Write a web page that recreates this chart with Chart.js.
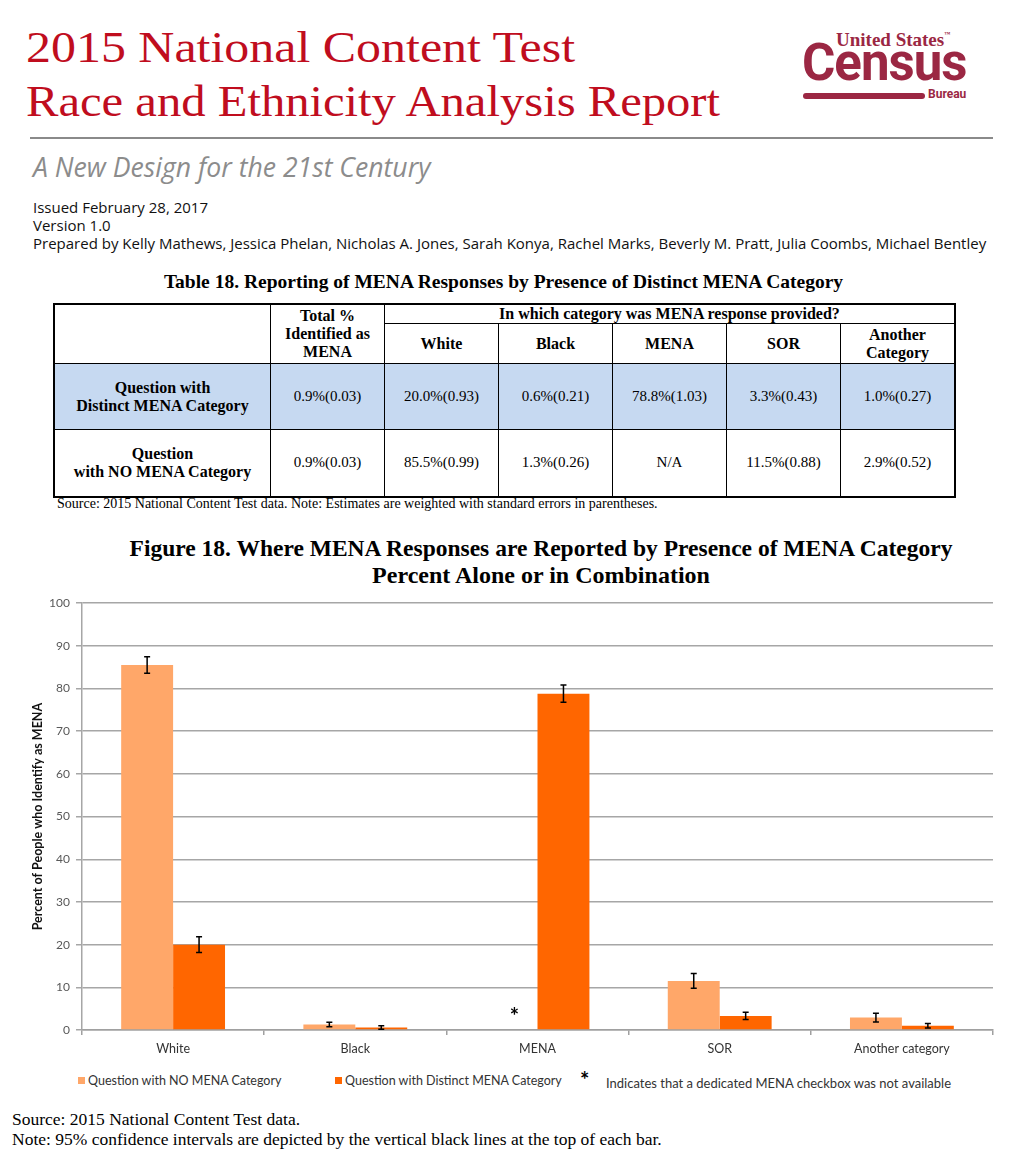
<!DOCTYPE html>
<html>
<head>
<meta charset="utf-8">
<script src="https://cdn.jsdelivr.net/npm/chart.js@4.4.1/dist/chart.umd.min.js"></script>
<style>
  body { margin: 0; background: #fff; width: 1024px; height: 1171px; position: relative; overflow: hidden; }
  .abs { position: absolute; white-space: nowrap; }
  .title { font-family: "Liberation Serif", serif; color: #c00d1e; font-size: 44px; left: 26px; transform-origin: left top; }
  .logo { font-family: "Roboto", "Liberation Sans", sans-serif; color: #9b2743; font-weight: bold; }
  .meta { font-family: "Open Sans", sans-serif; font-size: 15px; color: #111; left: 33px; }
  .serif { font-family: "Liberation Serif", serif; color: #000; }
  table { border-collapse: collapse; font-family: "Liberation Serif", serif; font-size: 15px; }
  td { border: 1px solid #000; text-align: center; padding: 0; }
  th { border: 1px solid #000; text-align: center; padding: 0; font-weight: bold; font-size: 16px; line-height: 18px; }
  .legend { font-family: "Lato", sans-serif; font-size: 12.5px; color: #333; top: 1073px; }
  .sw { display: inline-block; width: 7px; height: 7px; margin-right: 3px; vertical-align: 1px; }
</style>
</head>
<body>
<div class="abs title" style="top:22px;transform:scaleX(1.135);">2015 National Content Test</div>
<div class="abs title" style="top:76px;transform:scaleX(1.105);">Race and Ethnicity Analysis Report</div>

<div class="abs logo" style="left:836px;top:29px;font-size:19px;font-family:'Liberation Serif',serif;">United States<span style="font-size:6px;vertical-align:10px;">™</span></div>
<div class="abs logo" style="left:802px;top:33px;font-size:51px;letter-spacing:-1px;">Census</div>
<div class="abs" style="left:803px;top:93px;width:122px;height:6px;border-radius:3px;background:#9b2743;"></div>
<div class="abs logo" style="left:928px;top:87px;font-size:12px;">Bureau</div>

<div class="abs" style="left:30px;top:137px;width:963px;height:2px;background:#8a8a8a;"></div>
<div class="abs" style="left:33px;top:147px;font-family:'Open Sans',sans-serif;font-style:italic;font-size:28px;color:#8c8c8c;transform:scaleX(0.95);transform-origin:left top;">A New Design for the 21st Century</div>

<div class="abs meta" style="top:197px;">Issued February 28, 2017</div>
<div class="abs meta" style="top:215px;">Version 1.0</div>
<div class="abs meta" style="top:233px;">Prepared by Kelly Mathews, Jessica Phelan, Nicholas A. Jones, Sarah Konya, Rachel Marks, Beverly M. Pratt, Julia Coombs, Michael Bentley</div>

<div class="abs serif" style="left:0;width:1007px;text-align:center;top:271px;font-size:19.5px;font-weight:bold;">Table 18. Reporting of MENA Responses by Presence of Distinct MENA Category</div>

<table id="tbl" class="abs" style="left:53px;top:303px;border:2px solid #000;"></table>
<div class="abs serif" style="left:57px;top:496px;font-size:14px;">Source: 2015 National Content Test data. Note: Estimates are weighted with standard errors in parentheses.</div>

<div class="abs serif" style="left:0;width:1082px;text-align:center;top:535px;font-size:23.5px;font-weight:bold;line-height:27px;">Figure 18. Where MENA Responses are Reported by Presence of MENA Category<br><span style="font-size:24px;">Percent Alone or in Combination</span></div>

<div class="abs" style="left:0;top:590px;width:1024px;height:476px;">
  <canvas id="chart"></canvas>
</div>

<div class="abs legend" style="left:78px;"><span class="sw" style="background:#ffa769;"></span>Question with NO MENA Category</div>
<div class="abs legend" style="left:335px;"><span class="sw" style="background:#ff6600;"></span>Question with Distinct MENA Category</div>
<div class="abs" style="left:580px;top:1066px;font-family:Lato,sans-serif;font-size:22px;font-weight:bold;">*</div>
<div class="abs legend" style="left:606px;top:1075px;font-size:13px;">Indicates that a dedicated MENA checkbox was not available</div>

<div class="abs serif" style="left:12px;top:1109px;font-size:17.5px;">Source: 2015 National Content Test data.</div>
<div class="abs serif" style="left:12px;top:1129px;font-size:17.5px;">Note: 95% confidence intervals are depicted by the vertical black lines at the top of each bar.</div>

<script>
const categories = ['White', 'Black', 'MENA', 'SOR', 'Another category'];
const tableHeaders = ['White', 'Black', 'MENA', 'SOR', 'Another Category'];
const noMenaValues = [85.5, 1.3, null, 11.5, 2.9];
const noMenaSE = [0.99, 0.26, null, 0.88, 0.52];
const distinctValues = [20.0, 0.6, 78.8, 3.3, 1.0];
const distinctSE = [0.93, 0.21, 1.03, 0.43, 0.27];
const totalIdentified = [0.9, 0.9];
const totalSE = [0.03, 0.03];
const yTicks = [0, 10, 20, 30, 40, 50, 60, 70, 80, 90, 100];

// build the table
function cell(v, se) {
    if (v === null) return 'N/A';
    return v.toFixed(1) + '%(' + se.toFixed(2) + ')';
}
const tbl = document.getElementById('tbl');
let html = '<tr style="height:19px;"><th rowspan="2" style="width:215px;"></th>' +
    '<th rowspan="2" style="width:113px;">Total %<br>Identified as<br>MENA</th>' +
    '<th colspan="5">In which category was MENA response provided?</th></tr>';
html += '<tr style="height:40px;">' + tableHeaders.map(h =>
    '<th style="width:113px;">' + h.replace(' ', '<br>') + '</th>').join('') + '</tr>';
html += '<tr style="height:66px;background:#c6d9f1;"><th>Question with<br>Distinct MENA Category</th>' +
    '<td>' + cell(totalIdentified[0], totalSE[0]) + '</td>' +
    distinctValues.map((v, i) => '<td>' + cell(v, distinctSE[i]) + '</td>').join('') + '</tr>';
html += '<tr style="height:67px;"><th>Question<br>with NO MENA Category</th>' +
    '<td>' + cell(totalIdentified[1], totalSE[1]) + '</td>' +
    noMenaValues.map((v, i) => '<td>' + cell(v, noMenaSE[i]) + '</td>').join('') + '</tr>';
tbl.innerHTML = html;

// 95% confidence interval bars and the N/A asterisk
const errorBars = {
    id: 'errorBars',
    afterDatasetsDraw(chart) {
        const ctx = chart.ctx;
        const yScale = chart.scales.y;
        const seLists = [noMenaSE, distinctSE];
        ctx.save();
        ctx.strokeStyle = '#000';
        ctx.lineWidth = 1.5;
        chart.data.datasets.forEach((ds, di) => {
            const meta = chart.getDatasetMeta(di);
            meta.data.forEach((bar, i) => {
                const v = ds.data[i];
                if (v === null) return;
                const half = 1.96 * seLists[di][i];
                const top = yScale.getPixelForValue(v + half);
                const bot = yScale.getPixelForValue(Math.max(0, v - half));
                ctx.beginPath();
                ctx.moveTo(bar.x, top); ctx.lineTo(bar.x, bot);
                ctx.moveTo(bar.x - 3, top); ctx.lineTo(bar.x + 3, top);
                ctx.moveTo(bar.x - 3, bot); ctx.lineTo(bar.x + 3, bot);
                ctx.stroke();
            });
        });
        // asterisk where no MENA checkbox existed
        const other = chart.getDatasetMeta(1).data[2];
        const ax = other.x - other.width + 3;
        ctx.fillStyle = '#000';
        ctx.font = 'bold 22px Lato';
        ctx.textAlign = 'center';
        ctx.textBaseline = 'middle';
        ctx.fillText('*', ax, yScale.getPixelForValue(3.0));
        ctx.restore();
    }
};

new Chart(document.getElementById('chart'), {
    type: 'bar',
    data: {
        labels: categories,
        datasets: [{
            label: 'Question with NO MENA Category',
            data: noMenaValues,
            backgroundColor: '#ffa769'
        }, {
            label: 'Question with Distinct MENA Category',
            data: distinctValues,
            backgroundColor: '#ff6600'
        }]
    },
    options: {
        responsive: true,
        maintainAspectRatio: false,
        animation: false,
        layout: { padding: { top: 13, right: 31, left: 0, bottom: 0 } },
        datasets: { bar: { categoryPercentage: 0.57, barPercentage: 1.0 } },
        scales: {
            x: {
                grid: { drawOnChartArea: false, color: '#a0a0a0', tickLength: 5, lineWidth: 1.5 },
                border: { color: '#a0a0a0', width: 1.5 },
                ticks: { color: '#333', font: { family: 'Lato', size: 12.5 }, padding: 6 },
                afterFit(scale) { scale.height = 36; }
            },
            y: {
                min: 0,
                max: 100,
                afterBuildTicks(scale) { scale.ticks = yTicks.map(v => ({ value: v })); },
                grid: { color: '#a6a6a6', lineWidth: 1.5, tickLength: 6 },
                border: { color: '#a6a6a6', width: 1.5 },
                ticks: { color: '#595959', font: { family: 'Lato', size: 12 }, padding: 6 },
                title: {
                    display: true,
                    text: 'Percent of People who Identify as MENA',
                    color: '#111',
                    font: { family: 'Lato', size: 12.5, weight: 'bold' },
                    padding: { top: 30, bottom: 0 }
                },
                afterFit(scale) { scale.width = 82; }
            }
        },
        plugins: {
            legend: { display: false },
            tooltip: { enabled: false }
        }
    },
    plugins: [errorBars]
});
</script>
</body>
</html>
